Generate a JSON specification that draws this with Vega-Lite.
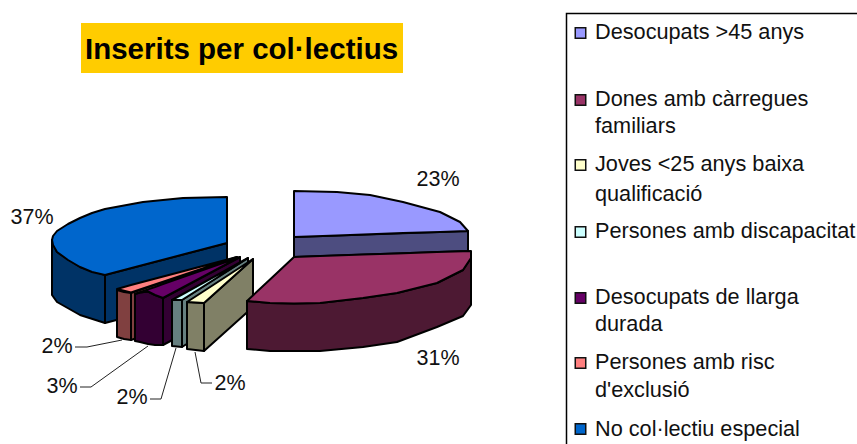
{
"$schema":"https://vega.github.io/schema/vega-lite/v6.json",
"width":857,"height":444,"padding":0,"autosize":{"type":"none"},
"background":"white",
"config":{"view":{"stroke":null}},
"datasets":{
"faces":[
{"part":"wall No col","x":105,"y":275,"y2":323},{"part":"wall No col","x":227,"y":243,"y2":291},
{"part":"wall No arc","x":52,"y":240,"y2":295},{"part":"wall No arc","x":57,"y":252,"y2":302},{"part":"wall No arc","x":80,"y":267,"y2":315},{"part":"wall No arc","x":105,"y":275,"y2":323},
{"part":"No col·lectiu especial","x":52,"y":240,"y2":240},{"part":"No col·lectiu especial","x":53,"y":236,"y2":245},{"part":"No col·lectiu especial","x":57,"y":231,"y2":252},{"part":"No col·lectiu especial","x":68,"y":224,"y2":260},{"part":"No col·lectiu especial","x":80,"y":218,"y2":267},{"part":"No col·lectiu especial","x":92,"y":213,"y2":272},{"part":"No col·lectiu especial","x":105,"y":209,"y2":275},{"part":"No col·lectiu especial","x":143,"y":202,"y2":265},{"part":"No col·lectiu especial","x":183,"y":198,"y2":254.5},{"part":"No col·lectiu especial","x":227,"y":197,"y2":243},

{"part":"wall risc radial","x":131,"y":293,"y2":340},{"part":"wall risc radial","x":237,"y":257,"y2":304},
{"part":"wall risc","x":117,"y":290,"y2":337},{"part":"wall risc","x":124,"y":292,"y2":339},{"part":"wall risc","x":131,"y":293,"y2":340},
{"part":"Persones amb risc d'exclusió","x":117,"y":289,"y2":289},{"part":"Persones amb risc d'exclusió","x":131,"y":285,"y2":292.5},{"part":"Persones amb risc d'exclusió","x":237,"y":257,"y2":257},

{"part":"wall llarga radial","x":163,"y":298,"y2":345},{"part":"wall llarga radial","x":240,"y":257,"y2":304},
{"part":"wall llarga","x":135,"y":294,"y2":341},{"part":"wall llarga","x":140,"y":292.5,"y2":342},{"part":"wall llarga","x":148,"y":291.5,"y2":344},{"part":"wall llarga","x":155,"y":295,"y2":345},{"part":"wall llarga","x":163,"y":298,"y2":345},
{"part":"Desocupats de llarga durada","x":135,"y":294,"y2":294},{"part":"Desocupats de llarga durada","x":140,"y":292.2,"y2":292.5},{"part":"Desocupats de llarga durada","x":148,"y":289.4,"y2":291.5},{"part":"Desocupats de llarga durada","x":155,"y":287,"y2":295},{"part":"Desocupats de llarga durada","x":163,"y":284,"y2":298},{"part":"Desocupats de llarga durada","x":240,"y":257,"y2":257},

{"part":"wall disc radial","x":182,"y":300,"y2":347},{"part":"wall disc radial","x":248,"y":258,"y2":305},
{"part":"wall disc","x":172,"y":300,"y2":346},{"part":"wall disc","x":182,"y":300,"y2":347},
{"part":"Persones amb discapacitat","x":172,"y":300,"y2":300},{"part":"Persones amb discapacitat","x":182,"y":294.5,"y2":300},{"part":"Persones amb discapacitat","x":248,"y":258,"y2":258},

{"part":"wall joves radial","x":204,"y":303,"y2":351},{"part":"wall joves radial","x":253,"y":259,"y2":307},
{"part":"wall joves","x":187,"y":302,"y2":349},{"part":"wall joves","x":204,"y":303,"y2":351},
{"part":"Joves <25 anys baixa qualificació","x":187,"y":302,"y2":302},{"part":"Joves <25 anys baixa qualificació","x":204,"y":291,"y2":303},{"part":"Joves <25 anys baixa qualificació","x":253,"y":259,"y2":259},

{"part":"wall 45","x":294,"y":237,"y2":257},{"part":"wall 45","x":468,"y":231,"y2":251},
{"part":"Desocupats >45 anys","x":294,"y":191,"y2":237},{"part":"Desocupats >45 anys","x":337,"y":192,"y2":235.5},{"part":"Desocupats >45 anys","x":370,"y":195,"y2":234.3},{"part":"Desocupats >45 anys","x":403,"y":202,"y2":233},{"part":"Desocupats >45 anys","x":440,"y":212,"y2":232},{"part":"Desocupats >45 anys","x":460,"y":222,"y2":231.3},{"part":"Desocupats >45 anys","x":468,"y":231,"y2":231},

{"part":"wall dones","x":247,"y":301,"y2":349},{"part":"wall dones","x":270,"y":303,"y2":351},{"part":"wall dones","x":294,"y":303.5,"y2":351},{"part":"wall dones","x":320,"y":303,"y2":351},{"part":"wall dones","x":363,"y":298,"y2":347},{"part":"wall dones","x":397,"y":293,"y2":342},{"part":"wall dones","x":437,"y":283,"y2":327},{"part":"wall dones","x":463,"y":270,"y2":316},{"part":"wall dones","x":471,"y":258,"y2":305},
{"part":"Dones amb càrregues familiars","x":247,"y":301,"y2":301},{"part":"Dones amb càrregues familiars","x":270,"y":279.5,"y2":303},{"part":"Dones amb càrregues familiars","x":294,"y":257,"y2":303.5},{"part":"Dones amb càrregues familiars","x":320,"y":256.1,"y2":303},{"part":"Dones amb càrregues familiars","x":363,"y":254.6,"y2":298},{"part":"Dones amb càrregues familiars","x":397,"y":253.4,"y2":293},{"part":"Dones amb càrregues familiars","x":437,"y":252,"y2":283},{"part":"Dones amb càrregues familiars","x":463,"y":251.2,"y2":270},{"part":"Dones amb càrregues familiars","x":471,"y":251,"y2":258}
],
"leaders":[
{"k":"a","x":75,"y":347},{"k":"a","x":87,"y":347},{"k":"a","x":122,"y":340},
{"k":"b","x":80,"y":387},{"k":"b","x":91,"y":387},{"k":"b","x":148,"y":346},
{"k":"c","x":150,"y":399},{"k":"c","x":161,"y":399},{"k":"c","x":176,"y":348},
{"k":"d","x":195,"y":352},{"k":"d","x":201,"y":383},{"k":"d","x":212,"y":383}
],
"pct":[
{"t":"23%","x":438,"y":180},{"t":"31%","x":438,"y":359},{"t":"37%","x":32,"y":218},{"t":"2%","x":57,"y":347},{"t":"3%","x":62,"y":387},{"t":"2%","x":132,"y":398},{"t":"2%","x":230,"y":384}
],
"swatches":[
{"part":"Desocupats >45 anys","x":580.5,"y":33},
{"part":"Dones amb càrregues familiars","x":580.5,"y":100},
{"part":"Joves <25 anys baixa qualificació","x":580.5,"y":165},
{"part":"Persones amb discapacitat","x":580.5,"y":232},
{"part":"Desocupats de llarga durada","x":580.5,"y":298},
{"part":"Persones amb risc d'exclusió","x":580.5,"y":363},
{"part":"No col·lectiu especial","x":580.5,"y":429}
],
"legendText":[
{"t":"Desocupats >45 anys","x":595,"y":32},
{"t":"Dones amb càrregues","x":595,"y":99},{"t":"familiars","x":595,"y":126},
{"t":"Joves <25 anys baixa","x":595,"y":164},{"t":"qualificació","x":595,"y":194},
{"t":"Persones amb discapacitat","x":595,"y":231},
{"t":"Desocupats de llarga","x":595,"y":297},{"t":"durada","x":595,"y":324},
{"t":"Persones amb risc","x":595,"y":362},{"t":"d'exclusió","x":595,"y":390},
{"t":"No col·lectiu especial","x":595,"y":429}
]
},
"encoding":{
"x":{"field":"x","type":"quantitative","axis":null,"scale":{"domain":[0,857],"nice":false,"zero":false}},
"y":{"field":"y","type":"quantitative","axis":null,"scale":{"domain":[444,0],"nice":false,"zero":false}}
},
"layer":[
{"data":{"values":[{"x":81,"x2":403,"y":23,"y2":73}]},"mark":{"type":"rect","fill":"#FFCC00"},"encoding":{"x2":{"field":"x2"},"y2":{"field":"y2"}}},
{"data":{"values":[{"x":566.5,"x2":880,"y":13.5,"y2":470}]},"mark":{"type":"rect","fill":"white","stroke":"black","strokeWidth":1.5},"encoding":{"x2":{"field":"x2"},"y2":{"field":"y2"}}},
{"data":{"name":"faces"},"mark":{"type":"area","stroke":"black","strokeWidth":2,"strokeJoin":"round","fillOpacity":1,"opacity":1},
"encoding":{"y2":{"field":"y2"},"detail":{"field":"part"},
"color":{"field":"part","type":"nominal","legend":null,"sort":null,"scale":{
"domain":["No col·lectiu especial","wall No col","wall No arc","Persones amb risc d'exclusió","wall risc","wall risc radial","Desocupats de llarga durada","wall llarga","wall llarga radial","Persones amb discapacitat","wall disc","wall disc radial","Joves <25 anys baixa qualificació","wall joves","wall joves radial","Desocupats >45 anys","wall 45","Dones amb càrregues familiars","wall dones"],
"range":["#0066CC","#003366","#003366","#FF8080","#804040","#804040","#660066","#330033","#330033","#CCFFFF","#668080","#668080","#FFFFCC","#808066","#808066","#9999FF","#4D4D80","#993366","#4D1933"]}}}},
{"data":{"name":"leaders"},"mark":{"type":"line","color":"#222222","strokeWidth":1},"encoding":{"detail":{"field":"k"}}},
{"data":{"name":"swatches"},"mark":{"type":"point","shape":"square","filled":true,"size":110,"stroke":"#111111","strokeWidth":1.5,"opacity":1},
"encoding":{"color":{"field":"part","type":"nominal","legend":null}}},
{"data":{"name":"pct"},"mark":{"type":"text","font":"Liberation Sans","fontSize":21.5,"align":"center","baseline":"middle","color":"#111111"},"encoding":{"text":{"field":"t"}}},
{"data":{"name":"legendText"},"mark":{"type":"text","font":"Liberation Sans","fontSize":21.7,"align":"left","baseline":"middle","color":"#111111"},"encoding":{"text":{"field":"t"}}},
{"data":{"values":[{"t":"Inserits per col·lectius","x":241.5,"y":49.5}]},"mark":{"type":"text","font":"Liberation Sans","fontSize":29.5,"fontWeight":"bold","align":"center","baseline":"middle","color":"black"},"encoding":{"text":{"field":"t"}}}
]
}
